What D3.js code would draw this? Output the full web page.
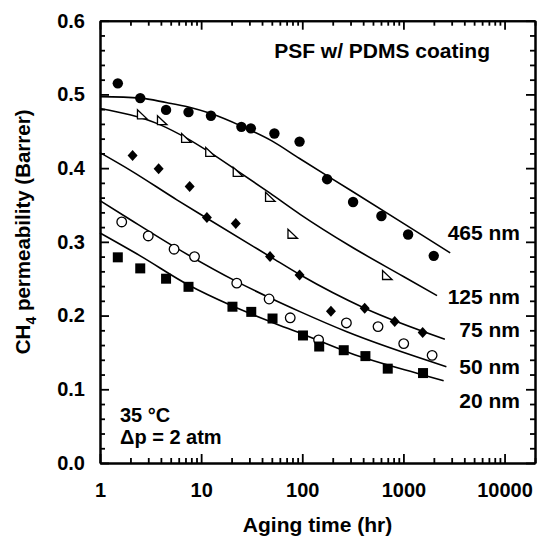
<!DOCTYPE html>
<html lang="en">
<head>
<meta charset="UTF-8">
<title>CH4 permeability aging</title>
<script src="https://d3js.org/d3.v7.min.js"></script>
<style>
  body { margin: 0; background: #fff; }
  svg text { font-family: "Liberation Sans", Arial, Helvetica, sans-serif; font-weight: bold; fill: #000; }
</style>
</head>
<body>
<svg id="chart"></svg>
<script>
const width = 537;
const height = 538;

// measured points (aging time in hr, permeability in Barrer)
const t465 = [1.5, 2.5, 4.5, 7.5, 12.5, 25, 31, 53, 94, 176, 318, 606, 1113, 1995];
const p465 = [0.515, 0.495, 0.479, 0.476, 0.471, 0.456, 0.454, 0.447, 0.436, 0.385, 0.354, 0.335, 0.310, 0.281];
const t125 = [2.6, 4.1, 7.1, 12.3, 23, 48, 80, 689];
const p125 = [0.473, 0.465, 0.441, 0.422, 0.395, 0.361, 0.311, 0.255];
const t75 = [2.1, 3.8, 7.7, 11.4, 22, 48, 94, 192, 414, 820, 1550];
const p75 = [0.417, 0.399, 0.375, 0.333, 0.325, 0.280, 0.255, 0.206, 0.210, 0.192, 0.177];
const t50 = [1.64, 3.0, 5.4, 8.6, 22.5, 47, 76, 145, 273, 561, 1007, 1922];
const p50 = [0.327, 0.308, 0.290, 0.280, 0.244, 0.2225, 0.197, 0.167, 0.190, 0.185, 0.162, 0.146];
const t20 = [1.5, 2.5, 4.5, 7.5, 20.4, 31.3, 50.8, 101.6, 147, 257, 421, 700, 1563];
const p20 = [0.279, 0.264, 0.250, 0.239, 0.212, 0.205, 0.196, 0.173, 0.158, 0.153, 0.145, 0.128, 0.122];

// fitted curves
const fit465 = [[1, 0.497], [2.5, 0.495], [4.5, 0.489], [7.5, 0.483], [12.5, 0.474], [25, 0.457], [50, 0.437], [94, 0.413], [300, 0.370], [1000, 0.325], [2900, 0.285]];
const fit125 = [[1, 0.481], [3.9, 0.459], [7.1, 0.441], [12.3, 0.421], [23, 0.396], [48, 0.366], [96, 0.337], [300, 0.294], [1000, 0.253], [2150, 0.227]];
const fit75 = [[1, 0.421], [2, 0.397], [5.75, 0.357], [11.4, 0.332], [48, 0.280], [96, 0.255], [414, 0.210], [2570, 0.168]];
const fit50 = [[1, 0.356], [2, 0.330], [5.4, 0.2935], [22.5, 0.246], [47, 0.2245], [96, 0.205], [276, 0.178], [2660, 0.1307]];
const fit20 = [[1, 0.312], [2.5, 0.281], [7.5, 0.2415], [20.4, 0.213], [50, 0.191], [96, 0.176], [300, 0.149], [1563, 0.1195], [2500, 0.1115]];

const seriesLabels = ["465 nm", "125 nm", "75 nm", "50 nm", "20 nm"];
const labelValues = [0.302, 0.216, 0.171, 0.121, 0.075];
const xMajor = [1, 10, 100, 1000, 10000];
const yMajor = [0, 0.1, 0.2, 0.3, 0.4, 0.5, 0.6];

const plotLeft = 100, plotRight = 535, plotTop = 20.7, plotBottom = 463;

const svg = d3.select("#chart").attr("width", width).attr("height", height);

const x = d3.scaleLog().domain([1, 20000]).range([plotLeft, plotRight]);
const y = d3.scaleLinear().domain([0, 0.6]).range([plotBottom, plotTop]);

const xMinor = [];
xMajor.forEach(d => { for (let k = 2; k <= 9; k++) if (d * k <= 20000) xMinor.push(d * k); });
const yMinor = d3.range(0, 0.6001, 0.02).filter(v => Math.abs(v * 10 - Math.round(v * 10)) > 1e-6);

function styleAxis(g) {
  g.selectAll("path.domain").attr("stroke", "#000").attr("stroke-width", 2);
  g.selectAll(".tick line").attr("stroke", "#000").attr("stroke-width", 1.8);
  g.selectAll(".tick text").style("font-size", "20px");
}

// bottom axis
svg.append("g").attr("transform", `translate(0,${plotBottom})`)
  .call(d3.axisBottom(x).tickValues(xMinor).tickSize(-5).tickSizeOuter(0).tickFormat(""))
  .call(styleAxis);
svg.append("g").attr("transform", `translate(0,${plotBottom})`)
  .call(d3.axisBottom(x).tickValues(xMajor).tickSize(-9).tickSizeOuter(0).tickPadding(20).tickFormat(d3.format("d")))
  .call(styleAxis);
// top axis
svg.append("g").attr("transform", `translate(0,${plotTop})`)
  .call(d3.axisTop(x).tickValues(xMinor).tickSize(-5).tickSizeOuter(0).tickFormat(""))
  .call(styleAxis);
svg.append("g").attr("transform", `translate(0,${plotTop})`)
  .call(d3.axisTop(x).tickValues(xMajor).tickSize(-9).tickSizeOuter(0).tickFormat(""))
  .call(styleAxis);
// left axis
svg.append("g").attr("transform", `translate(${plotLeft},0)`)
  .call(d3.axisLeft(y).tickValues(yMinor).tickSize(-5).tickSizeOuter(0).tickFormat(""))
  .call(styleAxis);
svg.append("g").attr("transform", `translate(${plotLeft},0)`)
  .call(d3.axisLeft(y).tickValues(yMajor).tickSize(-9).tickSizeOuter(0).tickPadding(15).tickFormat(d3.format(".1f")))
  .call(styleAxis);
// right axis
svg.append("g").attr("transform", `translate(${plotRight},0)`)
  .call(d3.axisRight(y).tickValues(yMinor).tickSize(-5).tickSizeOuter(0).tickFormat(""))
  .call(styleAxis);
svg.append("g").attr("transform", `translate(${plotRight},0)`)
  .call(d3.axisRight(y).tickValues(yMajor).tickSize(-9).tickSizeOuter(0).tickFormat(""))
  .call(styleAxis);

// fitted curves
const line = d3.line().x(d => x(d[0])).y(d => y(d[1])).curve(d3.curveMonotoneX);
[fit465, fit125, fit75, fit50, fit20].forEach(f => {
  svg.append("path").attr("d", line(f))
    .attr("fill", "none").attr("stroke", "#000").attr("stroke-width", 1.6);
});

function pts(ts, ps) { return ts.map((t, i) => [t, ps[i]]); }

// 465 nm: filled circles
svg.append("g").selectAll("circle").data(pts(t465, p465)).join("circle")
  .attr("cx", d => x(d[0])).attr("cy", d => y(d[1])).attr("r", 5.2).attr("fill", "#000");
// 125 nm: open right triangles
svg.append("g").selectAll("path").data(pts(t125, p125)).join("path")
  .attr("transform", d => `translate(${x(d[0])},${y(d[1])})`)
  .attr("d", "M-4.5,-4.5L-4.5,4.5L5,4.5Z")
  .attr("fill", "#fff").attr("stroke", "#000").attr("stroke-width", 1.3);
// 75 nm: filled diamonds
svg.append("g").selectAll("path").data(pts(t75, p75)).join("path")
  .attr("transform", d => `translate(${x(d[0])},${y(d[1])})`)
  .attr("d", "M0,-5.5L5,0L0,5.5L-5,0Z")
  .attr("fill", "#000");
// 50 nm: open circles
svg.append("g").selectAll("circle").data(pts(t50, p50)).join("circle")
  .attr("cx", d => x(d[0])).attr("cy", d => y(d[1])).attr("r", 4.8)
  .attr("fill", "#fff").attr("stroke", "#000").attr("stroke-width", 1.3);
// 20 nm: filled squares
svg.append("g").selectAll("rect").data(pts(t20, p20)).join("rect")
  .attr("x", d => x(d[0]) - 5).attr("y", d => y(d[1]) - 5)
  .attr("width", 10).attr("height", 10).attr("fill", "#000");

// series labels
svg.append("g").selectAll("text").data(seriesLabels).join("text")
  .attr("x", 520).attr("y", (d, i) => y(labelValues[i]))
  .attr("text-anchor", "end").style("font-size", "21px")
  .text(d => d);

// annotations
svg.append("text").attr("x", 490).attr("y", 58).attr("text-anchor", "end")
  .style("font-size", "21px").text("PSF w/ PDMS coating");
svg.append("text").attr("x", 120).attr("y", 422).style("font-size", "20px").text("35 °C");
svg.append("text").attr("x", 120).attr("y", 444).style("font-size", "20px").text("Δp = 2 atm");

// axis titles
svg.append("text").attr("x", (plotLeft + plotRight) / 2).attr("y", 532)
  .attr("text-anchor", "middle").style("font-size", "21px").text("Aging time (hr)");
const yt = svg.append("text")
  .attr("transform", `translate(30,${(plotTop + plotBottom) / 2 - 10}) rotate(-90)`)
  .attr("text-anchor", "middle").style("font-size", "20.5px");
yt.append("tspan").text("CH");
yt.append("tspan").attr("dy", 6).style("font-size", "14px").text("4");
yt.append("tspan").attr("dy", -6).text(" permeability (Barrer)");
</script>
</body>
</html>
